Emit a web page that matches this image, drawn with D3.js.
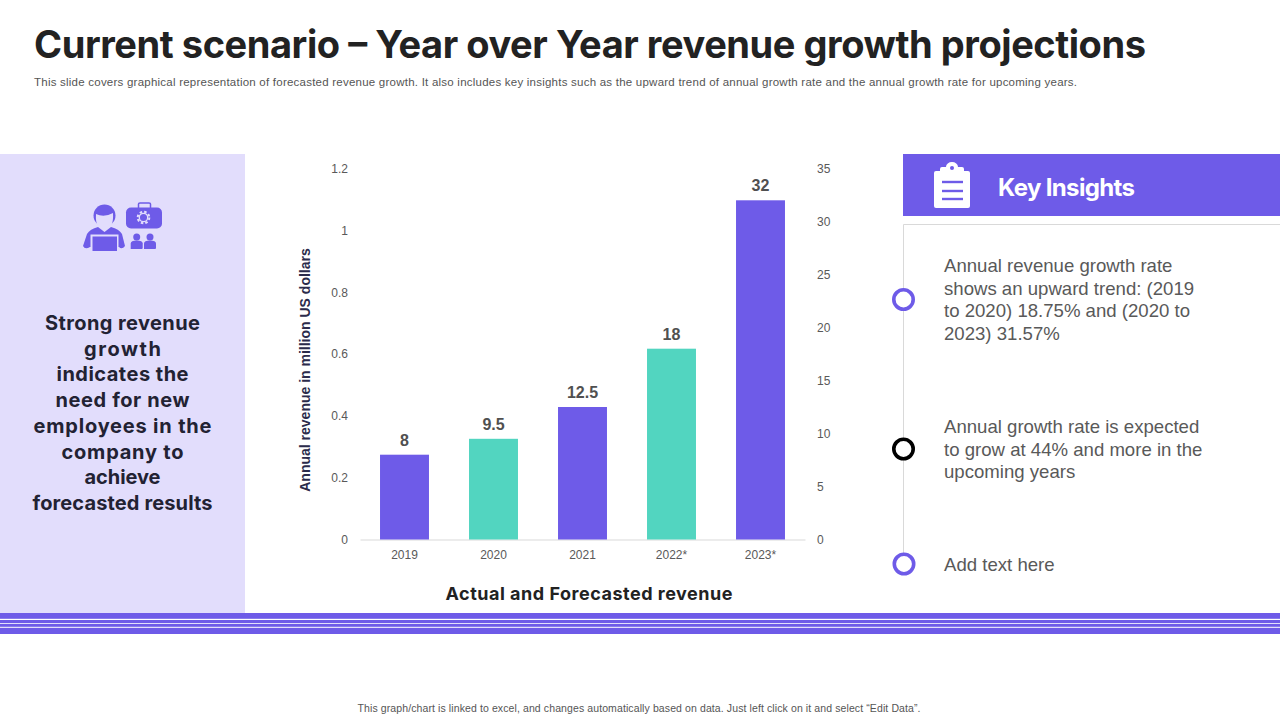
<!DOCTYPE html>
<html>
<head>
<meta charset="utf-8">
<script src="https://cdn.jsdelivr.net/npm/d3@7"></script>
<style>
  html, body { margin: 0; padding: 0; background: #fff; }
  svg { display: block; }
  text { font-family: "Liberation Sans", Arial, sans-serif; }
  .head { font-family: Inter, Lato, sans-serif; font-weight: 700; }
</style>
</head>
<body>
<div id="chart"></div>
<script>
const categories = ["2019", "2020", "2021", "2022*", "2023*"];
const revenue = [8, 9.5, 12.5, 18, 32];
const revenueLabels = ["8", "9.5", "12.5", "18", "32"];
const barColors = ["#6E5BE8", "#52D5C0", "#6E5BE8", "#52D5C0", "#6E5BE8"];
const leftTicks = [0, 0.2, 0.4, 0.6, 0.8, 1, 1.2];
const rightTicks = [0, 5, 10, 15, 20, 25, 30, 35];
const panelLines = ["Strong revenue", "growth", "indicates the", "need for new", "employees in the", "company to", "achieve", "forecasted results"];
const panelWidths = [155, 77, 132, 134, 178, 122, 76, 180];
const insightLines = [
  ["Annual revenue growth rate", "shows an upward trend: (2019", "to 2020) 18.75% and (2020 to", "2023) 31.57%"],
  ["Annual growth rate is expected", "to grow at 44% and more in the", "upcoming years"],
  ["Add text here"]
];

const purple = "#6E5BE8";
const panelFill = "#E2DDFC";
const svg = d3.select("#chart").append("svg").attr("width", 1280).attr("height", 720);

// Header
svg.append("text").attr("class", "head").attr("x", 34).attr("y", 58)
  .attr("font-size", 38).attr("fill", "#222222").attr("textLength", 1112)
  .text("Current scenario – Year over Year revenue growth projections");
svg.append("text").attr("x", 34).attr("y", 86).attr("font-size", 11.5).attr("fill", "#555555").attr("textLength", 1043)
  .text("This slide covers graphical representation of forecasted revenue growth. It also includes key insights such as the upward trend of annual growth rate and the annual growth rate for upcoming years.");

// Left panel
svg.append("rect").attr("x", 0).attr("y", 154).attr("width", 245).attr("height", 459).attr("fill", panelFill);
svg.append("g").selectAll("text").data(panelLines).join("text")
  .attr("class", "head").attr("x", 122.5).attr("y", (d, i) => 330 + i * 25.7)
  .attr("text-anchor", "middle").attr("font-size", 20).attr("fill", "#222233")
  .attr("textLength", (d, i) => panelWidths[i])
  .text(d => d);

// Person + toolbox icon
const icon = svg.append("g").attr("fill", purple);
icon.append("circle").attr("cx", 104.5).attr("cy", 215.5).attr("r", 11);
icon.append("path").attr("d", "M96 214 Q104 218 113 213 Q114 229 104.5 230 Q95 229 96 214Z").attr("fill", panelFill);
icon.append("path").attr("d", "M83 246 L87 234 Q90 229 98 227 L104.5 232 L111 227 Q119 229 122 234 L125 246 Q122 250 119 247 L90 247 Q85 250 83 246Z");
icon.append("rect").attr("x", 90.5).attr("y", 234.5).attr("width", 28).attr("height", 17).attr("fill", panelFill);
icon.append("rect").attr("x", 92.5).attr("y", 236.5).attr("width", 24.5).attr("height", 14.5);
icon.append("rect").attr("x", 126).attr("y", 207.5).attr("width", 36).attr("height", 21).attr("rx", 5);
icon.append("path").attr("d", "M138.5 208 V204 Q138.5 203 140 203 H149 Q150.5 203 150.5 204 V208").attr("fill", "none").attr("stroke", purple).attr("stroke-width", 1.5);
icon.append("circle").attr("cx", 143.5).attr("cy", 217.5).attr("r", 4.2).attr("fill", "none").attr("stroke", panelFill).attr("stroke-width", 1.3);
icon.append("circle").attr("cx", 143.5).attr("cy", 217.5).attr("r", 5.8).attr("fill", "none").attr("stroke", panelFill).attr("stroke-width", 2).attr("stroke-dasharray", "2.5 2.05");
[136.7, 150].forEach(cx => {
  icon.append("circle").attr("cx", cx).attr("cy", 237).attr("r", 3.5);
  icon.append("path").attr("d", `M${cx - 6} 249 V243.5 Q${cx - 6} 240.5 ${cx} 240.5 Q${cx + 6} 240.5 ${cx + 6} 243.5 V248 Q${cx + 6} 249 ${cx + 5} 249Z`);
});

// Chart
const margin = { top: 168.5, right: 475, bottom: 180.5, left: 360 };
const plotW = 1280 - margin.left - margin.right;
const plotH = 720 - margin.top - margin.bottom;
const g = svg.append("g").attr("transform", `translate(${margin.left},${margin.top})`);

const x = d3.scaleBand().domain(categories).range([0, plotW]).paddingInner(0.45).paddingOuter(0.225);
const yLeft = d3.scaleLinear().domain([0, 1.2]).range([plotH, 0]);
const yRight = d3.scaleLinear().domain([0, 35]).range([plotH, 0]);

const xAxis = g.append("g").attr("transform", `translate(0,${plotH})`)
  .call(d3.axisBottom(x).tickSize(0).tickPadding(11));
xAxis.select(".domain").attr("stroke", "#D9D9D9");
xAxis.selectAll("text").attr("font-size", 12).attr("fill", "#595959").attr("font-family", "Liberation Sans");

const leftAxis = g.append("g").attr("transform", "translate(-12,0)")
  .call(d3.axisLeft(yLeft).tickValues(leftTicks).tickSize(0).tickPadding(0).tickFormat(d3.format("~g")));
leftAxis.select(".domain").remove();
leftAxis.selectAll("text").attr("font-size", 12).attr("fill", "#595959").attr("font-family", "Liberation Sans");

const rightAxis = g.append("g").attr("transform", `translate(${plotW + 12},0)`)
  .call(d3.axisRight(yRight).tickValues(rightTicks).tickSize(0).tickPadding(0));
rightAxis.select(".domain").remove();
rightAxis.selectAll("text").attr("font-size", 12).attr("fill", "#595959").attr("font-family", "Liberation Sans");

g.selectAll(".bar").data(categories).join("rect")
  .attr("class", "bar")
  .attr("x", d => x(d))
  .attr("y", (d, i) => yRight(revenue[i]))
  .attr("width", x.bandwidth())
  .attr("height", (d, i) => plotH - yRight(revenue[i]))
  .attr("fill", (d, i) => barColors[i]);

g.selectAll(".value").data(categories).join("text")
  .attr("class", "value")
  .attr("x", d => x(d) + x.bandwidth() / 2)
  .attr("y", (d, i) => yRight(revenue[i]) - 9)
  .attr("text-anchor", "middle").attr("font-size", 16).attr("font-weight", 700).attr("fill", "#505050")
  .text((d, i) => revenueLabels[i]);

svg.append("text").attr("transform", "translate(309.5,370) rotate(-90)")
  .attr("text-anchor", "middle").attr("font-size", 14).attr("font-weight", 700).attr("fill", "#2B2B4B")
  .text("Annual revenue in million US dollars");
svg.append("text").attr("class", "head").attr("x", 589).attr("y", 600)
  .attr("text-anchor", "middle").attr("font-size", 18).attr("fill", "#222222").attr("textLength", 287)
  .text("Actual and Forecasted revenue");

// Key insights header
svg.append("rect").attr("x", 903).attr("y", 154).attr("width", 377).attr("height", 62).attr("fill", purple);
const clip = svg.append("g");
clip.append("path").attr("d", "M934 173 Q934 171 936 171 H968 Q970 171 970 173 V206 Q970 208 968 208 H936 Q934 208 934 206Z").attr("fill", "#fff");
clip.append("path").attr("d", "M940 175 V169 Q940 167 942 167 H946 A6 5 0 0 1 958 167 H962 Q964 167 964 169 V175Z").attr("fill", "#fff");
clip.append("circle").attr("cx", 952).attr("cy", 168).attr("r", 2).attr("fill", purple);
[182, 191, 199].forEach(y => clip.append("rect").attr("x", 942).attr("y", y - 1.2).attr("width", 21).attr("height", 2.4).attr("fill", purple));
svg.append("text").attr("class", "head").attr("x", 998).attr("y", 195.5)
  .attr("font-size", 24).attr("fill", "#fff").attr("textLength", 137).text("Key Insights");

// Insights box and timeline
svg.append("path").attr("d", "M1280 224.5 H903.5 V555").attr("fill", "none").attr("stroke", "#D9D9D9").attr("stroke-width", 1);
const insightTop = [272, 433, 571];
const dotY = [299.5, 449, 564];
const dotColors = [purple, "#000000", purple];
const dotX = [903.5, 903.5, 904];
dotY.forEach((y, i) => {
  svg.append("circle").attr("cx", dotX[i]).attr("cy", y).attr("r", 9.7)
    .attr("fill", "#fff").attr("stroke", dotColors[i]).attr("stroke-width", 3.6);
});
insightLines.forEach((lines, i) => {
  svg.append("g").selectAll("text").data(lines).join("text")
    .attr("x", 944).attr("y", (d, j) => insightTop[i] + j * 22.5)
    .attr("font-size", 18.6).attr("fill", "#595959").text(d => d);
});

// Bottom stripes
const stripes = [[613, 5.8], [620, 3], [623.8, 3], [627.8, 6.2]];
svg.append("g").selectAll("rect").data(stripes).join("rect")
  .attr("x", 0).attr("y", d => d[0]).attr("width", 1280).attr("height", d => d[1]).attr("fill", purple);

svg.append("text").attr("x", 639).attr("y", 711.5).attr("text-anchor", "middle")
  .attr("font-size", 10.5).attr("fill", "#555555").attr("textLength", 563)
  .text("This graph/chart is linked to excel, and changes automatically based on data. Just left click on it and select “Edit Data”.");
</script>
</body>
</html>
